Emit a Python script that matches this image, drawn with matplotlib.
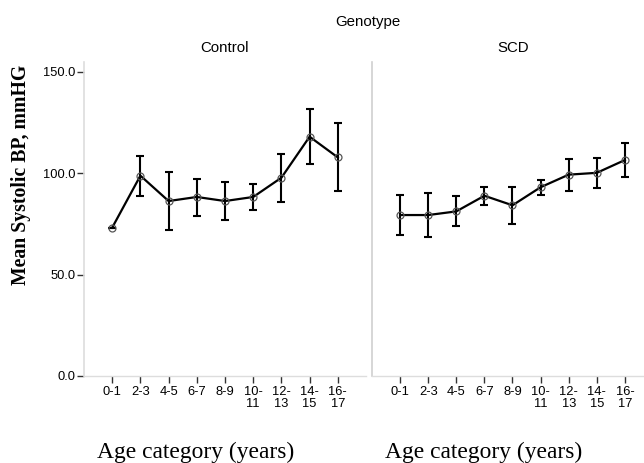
import numpy as np
import matplotlib
matplotlib.use("Agg")
import matplotlib.pyplot as plt

ages = ['0-1', '2-3', '4-5', '6-7', '8-9', '10-\n11', '12-\n13', '14-\n15', '16-\n17']

control_mean = [73.1, 98.7, 86.2, 88.2, 86.2, 88.2, 97.7, 117.9, 107.7]
control_low = [73.1, 88.8, 71.8, 79.0, 77.0, 81.6, 85.6, 104.3, 91.0]
control_high = [73.1, 108.5, 100.5, 97.2, 95.4, 94.4, 109.4, 131.5, 124.5]

scd_mean = [79.3, 79.3, 81.1, 88.8, 84.1, 93.0, 99.2, 100.1, 106.4]
scd_low = [69.5, 68.3, 73.7, 84.1, 75.0, 89.3, 91.3, 92.6, 97.9]
scd_high = [89.3, 90.0, 88.7, 93.3, 93.3, 96.4, 106.9, 107.4, 114.9]

W, H = 644, 463
fig = plt.figure(figsize=(W / 100, H / 100), dpi=100)

sans = 'Liberation Sans'
serif = 'Liberation Serif'


def px_axes(x0, x1, y_top, y_bot):
    return fig.add_axes([x0 / W, (H - y_bot) / H, (x1 - x0) / W, (y_bot - y_top) / H])


ax1 = px_axes(84, 366, 62, 376)
ax2 = px_axes(372, 644, 62, 376)

panels = [
    (ax1, control_mean, control_low, control_high, (-1, 9.0)),
    (ax2, scd_mean, scd_low, scd_high, (-1, 8.68)),
]

for ax, mean, low, high, xl in panels:
    x = np.arange(len(ages))
    mean = np.array(mean)
    err = [mean - np.array(low), np.array(high) - mean]
    ax.errorbar(x, mean, yerr=err, fmt='none', ecolor='black', elinewidth=1.5,
                capsize=3, capthick=1.5, zorder=2)
    ax.plot(x, mean, color='black', lw=1.6, zorder=3)
    ax.plot(x, mean, 'o', ms=5, mfc='none', mec='#555555', mew=0.9, zorder=4)
    ax.set_xlim(*xl)
    ax.set_ylim(0, 154.7)
    ax.set_xticks(x)
    ax.set_xticklabels(ages, fontsize=9.3, fontfamily=sans, linespacing=0.9)
    ax.tick_params(axis='x', length=5, width=1, color='#333333', pad=2.5)
    for s in ['top', 'right']:
        ax.spines[s].set_visible(False)
    ax.spines['left'].set_color('#dddddd')
    ax.spines['bottom'].set_color('#dddddd')
    ax.spines['left'].set_linewidth(1.2)
    ax.spines['bottom'].set_linewidth(1.0)

ax1.set_yticks([0, 50, 100, 150])
ax1.set_yticklabels(['0.0', '50.0', '100.0', '150.0'], fontsize=9.3, fontfamily=sans)
ax1.tick_params(axis='y', length=5, width=1, color='#333333', pad=1)
ax2.set_yticks([])
ax2.spines['left'].set_color('#d0d0d0')

fig.text(368 / W, 1 - 22 / H, 'Genotype', ha='center', va='center', fontsize=10.8, fontfamily=sans)
fig.text(224.5 / W, 1 - 48 / H, 'Control', ha='center', va='center', fontsize=10.8, fontfamily=sans)
fig.text(513 / W, 1 - 48 / H, 'SCD', ha='center', va='center', fontsize=10.8, fontfamily=sans)
fig.text(196 / W, 1 - 452 / H, 'Age category (years)', ha='center', va='center',
         fontsize=16.9, fontfamily=serif)
fig.text(484 / W, 1 - 452 / H, 'Age category (years)', ha='center', va='center',
         fontsize=16.9, fontfamily=serif)
fig.text(21 / W, 1 - 175 / H, 'Mean Systolic BP, mmHG', ha='center', va='center',
         rotation=90, fontsize=14.2, fontweight='bold', fontfamily=serif)

fig.savefig('out.png', dpi=100)
